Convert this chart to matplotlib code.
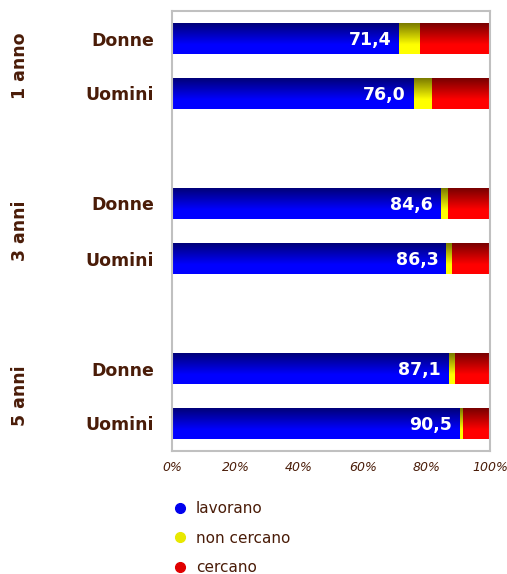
import numpy as np
import matplotlib
matplotlib.use('Agg')
import matplotlib.pyplot as plt
from matplotlib.colors import LinearSegmentedColormap
from matplotlib.lines import Line2D
from matplotlib.transforms import blended_transform_factory

# data (percent)
groups = ['1 anno', '3 anni', '5 anni']
sexes = ['Donne', 'Uomini']
lavorano = [71.4, 76.0, 84.6, 86.3, 87.1, 90.5]
non_cercano = [6.5, 5.7, 2.2, 1.7, 1.9, 0.9]
cercano = [22.1, 18.3, 13.2, 12.0, 11.0, 8.6]
series_names = ['lavorano', 'non cercano', 'cercano']
xticks = [0, 20, 40, 60, 80, 100]

brown = '#4a1c08'
grads = [('#000078', '#0000ff'), ('#7a7a00', '#ffff00'), ('#780000', '#ff0000')]
flat = ['#0000ee', '#e8e800', '#e00000']

fig = plt.figure(figsize=(5.07, 5.74), dpi=100)
ax = fig.add_axes([172/507, 1-451/574, 318/507, 440/574])

pos = [0, 1, 3, 4, 6, 7]
h = 0.56
g = np.linspace(0, 1, 100).reshape(-1, 1)
g = np.clip(g / 0.7, 0, 1)

# stacked bars with a vertical gradient
left = np.zeros(len(pos))
for vals, (c0, c1) in zip([lavorano, non_cercano, cercano], grads):
    cmap = LinearSegmentedColormap.from_list('g', [c0, c1])
    for i, y in enumerate(pos):
        ax.imshow(g, cmap=cmap, vmin=0, vmax=1, origin='lower', aspect='auto',
                  extent=(left[i], left[i] + vals[i], y - h/2, y + h/2), zorder=2)
    left = left + np.array(vals)

for i, y in enumerate(pos):
    ax.text(lavorano[i] - 2.5, y + 0.03, f'{lavorano[i]:.1f}'.replace('.', ','),
            ha='right', va='center', color='white', fontsize=12.5, fontweight='bold', zorder=3)

ax.set_xlim(0, 100)
ax.set_ylim(7.5, -0.5)
ax.set_xticks(xticks)
ax.set_xticklabels([f'{t}%' for t in xticks], fontstyle='italic', color=brown, fontsize=9)
ax.set_yticks(pos)
ax.set_yticklabels(sexes * 3, fontweight='bold', color=brown, fontsize=12.5)
ax.tick_params(axis='both', length=0)
ax.tick_params(axis='x', pad=7)
ax.tick_params(axis='y', pad=13)
for s in ax.spines.values():
    s.set_color('#c0c0c0')
    s.set_linewidth(1.5)

tr = blended_transform_factory(fig.transFigure, ax.transData)
for k, name in enumerate(groups):
    ax.text(20/507, pos[2*k] + 0.5, name, transform=tr,
            rotation=90, ha='center', va='center', fontweight='bold', color=brown, fontsize=12.5)

handles = [Line2D([], [], marker='o', linestyle='none', markersize=7, color=c) for c in flat]
leg = fig.legend(handles, series_names, loc='upper left', bbox_to_anchor=(166/507, 1-495/574),
                 frameon=False, handlelength=1.0, handletextpad=0.55, labelspacing=0.95,
                 fontsize=11, borderaxespad=0)
for t in leg.get_texts():
    t.set_color(brown)

fig.savefig('out.png', dpi=100)
